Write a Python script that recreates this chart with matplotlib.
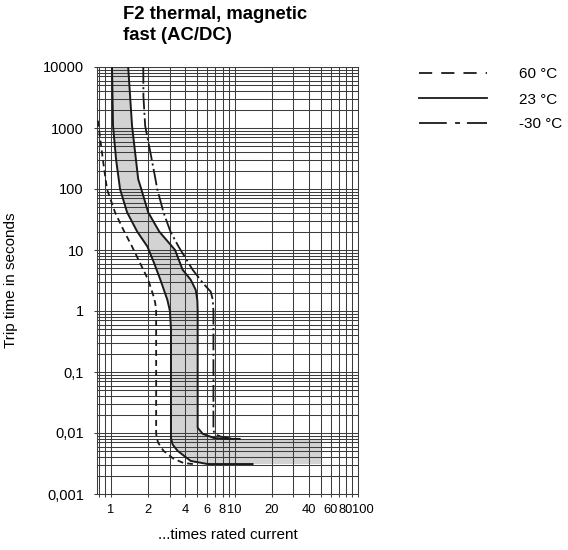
import numpy as np
import matplotlib
matplotlib.use("Agg")
import matplotlib.pyplot as plt
from matplotlib.lines import Line2D
from matplotlib.transforms import ScaledTranslation
from matplotlib.ticker import FixedLocator, FixedFormatter, NullFormatter, LogLocator

plt.rcParams['font.family'] = ['Liberation Sans', 'DejaVu Sans']
plt.rcParams['lines.scale_dashes'] = False

# ---- data ----
# 23 °C band, left (lower) boundary
left_I = [1.019, 1.038, 1.10, 1.184, 1.35, 1.63, 1.97, 2.24, 2.51, 2.86, 3.00, 3.06, 3.06, 3.15, 3.46, 4.42, 6.07, 14.0]
left_t = [10000, 1087, 300, 99, 41.4, 20, 11.4, 6.0, 3.25, 1.52, 1.0, 0.5, 0.0083, 0.0065, 0.0051, 0.00348, 0.0031, 0.0031]
# 23 °C band, right (upper) boundary
right_I = [1.377, 1.48, 1.66, 1.76, 2.0, 2.46, 3.3, 3.8, 4.42, 4.85, 5.0, 5.03, 5.03, 5.53, 6.8, 8.5, 11.0]
right_t = [10000, 1087, 145, 99, 41.4, 20, 10, 4.75, 3.25, 2.22, 1.5, 1.04, 0.0122, 0.0097, 0.0083, 0.008, 0.008]
# band continuation (shaded area only)
band_end_I = 50
band_low_t = 0.0031
band_high_t = 0.008
# 60 °C
hot_I = [0.783, 0.86, 0.928, 1.078, 1.28, 1.48, 2.0, 2.20, 2.28, 2.32, 2.32, 2.40, 2.66, 3.2, 3.87, 4.6]
hot_t = [1315, 300, 99, 41.4, 20, 11.4, 3.25, 1.8, 1.36, 1.0, 0.0097, 0.007, 0.0051, 0.0038, 0.00322, 0.0031]
# -30 °C
cold_I = [1.825, 1.83, 1.89, 2.08, 2.29, 2.37, 2.66, 3.03, 3.52, 4.58, 5.53, 6.43, 6.67, 6.75, 6.75, 7.0, 7.75, 9.4]
cold_t = [10000, 3270, 1087, 405, 145, 99, 41.4, 20, 11.4, 4.75, 2.9, 2.06, 1.52, 1.0, 0.0109, 0.0095, 0.0087, 0.0081]

x_ticks = [1, 2, 4, 6, 8, 10, 20, 40, 60, 80, 100]
x_minor = [0.8, 0.9, 3, 5, 7, 9, 30, 50, 70, 90]
y_ticks = [0.001, 0.01, 0.1, 1, 10, 100, 1000, 10000]
y_labels = ['0,001', '0,01', '0,1', '1', '10', '100', '1000', '10000']
legend_labels = ['60 °C', '23 °C', '-30 °C']

# ---- figure ----
fig = plt.figure(figsize=(5.68, 5.5), dpi=100)
ax = fig.add_axes([97/568, 1-494/550, (358-97)/568, (494-67)/550])
ax.set_xscale('log')
ax.set_yscale('log')
ax.set_xlim(0.77, 100)
ax.set_ylim(0.001, 10000)

# shaded band
poly_I = list(left_I[:-1]) + [band_end_I, band_end_I] + list(right_I[::-1])
poly_t = list(left_t[:-1]) + [band_low_t, band_high_t] + list(right_t[::-1])
ax.fill(poly_I, poly_t, color='#d3d3d3', lw=0, zorder=1)

lc = '#1a1a1a'
ax.plot(left_I, left_t, color=lc, lw=1.4, zorder=3, solid_joinstyle='round')
ax.plot(right_I, right_t, color=lc, lw=1.4, zorder=3, solid_joinstyle='round')
ax.plot(hot_I, hot_t, color=lc, lw=1.3, dashes=(4.3, 2.9), zorder=3)
ax.plot(cold_I, cold_t, color=lc, lw=1.3, dashes=(12, 2.5, 1.5, 2.5), zorder=3)

# ticks & grid
ax.xaxis.set_major_locator(FixedLocator(x_ticks))
ax.xaxis.set_major_formatter(FixedFormatter([str(v) for v in x_ticks]))
ax.xaxis.set_minor_locator(FixedLocator(x_minor))
ax.xaxis.set_minor_formatter(NullFormatter())
ax.yaxis.set_major_locator(FixedLocator(y_ticks))
ax.yaxis.set_major_formatter(FixedFormatter(y_labels))
ax.yaxis.set_minor_locator(LogLocator(base=10, subs=np.arange(2, 10), numticks=20))
ax.yaxis.set_minor_formatter(NullFormatter())

ax.grid(which='both', color='#3c3c3c', lw=0.75)
ax.tick_params(axis='x', which='both', direction='out', length=2.5, width=0.75, color='#3c3c3c',
               labelsize=9.3, pad=5)
ax.tick_params(axis='y', which='major', direction='out', length=2.5, width=0.75, color='#3c3c3c',
               labelsize=10.5, pad=7)
ax.tick_params(axis='y', which='minor', length=0)
for s in ax.spines.values():
    s.set_color('#3c3c3c')
    s.set_linewidth(0.75)

ax.set_xlabel('...times rated current', fontsize=11, labelpad=8)
ax.set_ylabel('Trip time in seconds', fontsize=11, labelpad=18)

fig.text(123/568, 1-6/550, 'F2 thermal, magnetic\nfast (AC/DC)', ha='left', va='top',
         fontsize=13.3, fontweight='bold', linespacing=1.28)

handles = [Line2D([], [], color=lc, lw=1.3, dashes=(9.5, 6.5)),
           Line2D([], [], color=lc, lw=1.3),
           Line2D([], [], color=lc, lw=1.3, dashes=(20, 6, 3.5, 5))]
leg = fig.legend(handles, legend_labels, loc='upper left', bbox_to_anchor=(419/568, 1-67.5/550),
                 frameon=False, fontsize=11, handlelength=4.45, handletextpad=2.1,
                 labelspacing=0.72, borderpad=0, borderaxespad=0)

# nudge the crowded last x label to the right, as in the reference
fig.canvas.draw()
for tick in ax.xaxis.get_major_ticks():
    if tick.get_loc() == 100:
        lab = tick.label1
        lab.set_transform(lab.get_transform() + ScaledTranslation(5/100, 0, fig.dpi_scale_trans))

fig.savefig('out.png', dpi=100)
